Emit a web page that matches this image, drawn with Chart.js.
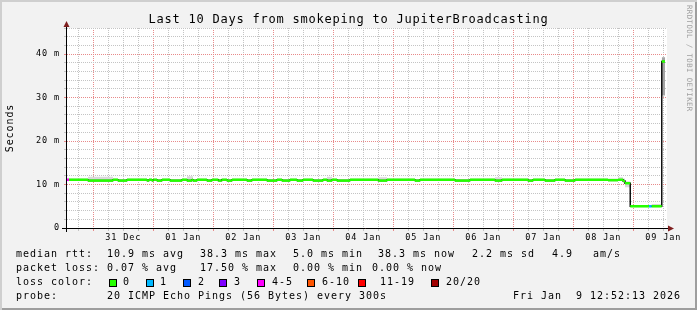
<!DOCTYPE html>
<html>
<head>
<meta charset="utf-8">
<title>Last 10 Days from smokeping to JupiterBroadcasting</title>
<script src="https://cdn.jsdelivr.net/npm/chart.js@4.4.1/dist/chart.umd.min.js"></script>
<style>
  html, body { margin: 0; padding: 0; background: #f2f2f2; }
  #wrap {
    position: relative; width: 697px; height: 310px; overflow: hidden; background: #f2f2f2;
    box-shadow: inset 2px 2px 0 #cfcfcf, inset -2px -2px 0 #9e9e9e;
    font-family: "DejaVu Sans Mono", monospace; color: #000;
  }
  #chart { position: absolute; left: 0; top: 0; }
  .txt { position: absolute; white-space: pre; font-size: 10px; line-height: 14px; letter-spacing: 0.98px; }
  #title { position: absolute; left: 0; top: 12px; width: 697px; text-align: center; white-space: pre;
           font-size: 12px; line-height: 14px; letter-spacing: 0.78px; }
  #mark { position: absolute; left: 685px; top: 5px; writing-mode: vertical-rl; white-space: pre;
          font-size: 7.4px; letter-spacing: 0.4px; color: #a0a0a0; }
  .box { position: absolute; width: 6px; height: 6px; border: 1px solid #000; }
</style>
</head>
<body>
<div id="wrap">
  <canvas id="chart" width="697" height="310"></canvas>
  <div id="title">Last 10 Days from smokeping to JupiterBroadcasting</div>
  <div id="mark">RRDTOOL / TOBI OETIKER</div>
  <div id="legend"></div>
</div>
<script>
// time axis in hours since 31 Dec 00:00
const dayLabels = ['31 Dec', '01 Jan', '02 Jan', '03 Jan', '04 Jan', '05 Jan', '06 Jan', '07 Jan', '08 Jan', '09 Jan'];
const yTickValues = [0, 10, 20, 30, 40];
const yTickLabels = ['0', '10 m', '20 m', '30 m', '40 m'];

// step series (start hour of each step, value in ms)
const stepStartH = [-10.5, -9.7, -2.1, 7.9, 9.9, 13.5, 21.5, 22.3, 23.5, 24.0,
  25.5, 27.5, 30.7, 35.5, 37.5, 39.5, 39.9, 41.5, 45.5, 47.5,
  50.0, 51.4, 53.5, 55.5, 61.5, 63.5, 69.5, 73.5, 75.5, 78.7,
  81.5, 83.9, 87.9, 91.9, 93.5, 95.5, 97.5, 102.7, 114.0, 117.5,
  128.7, 130.7, 144.7, 150.7, 160.7, 163.5, 173.9, 175.9, 180.7, 184.7,
  188.7, 192.7, 205.9, 209.9, 211.9, 212.7, 214.8, 222.3, 223.4, 227.4];
const lastEndH = 228.7;

const medianMs = [11.1, 11.1, 10.9, 11.1, 10.9, 11.1, 10.9, 11.1, 10.9, 11.1,
  10.9, 11.1, 10.9, 11.1, 10.9, 11.1, 10.9, 11.1, 10.9, 11.1,
  10.9, 11.1, 10.9, 11.1, 10.9, 11.1, 10.9, 11.1, 10.9, 11.1,
  10.9, 11.1, 10.9, 11.1, 10.9, 11.1, 10.9, 11.1, 10.9, 11.1,
  10.9, 11.1, 10.9, 11.1, 10.9, 11.1, 10.9, 11.1, 10.9, 11.1,
  10.9, 11.1, 11.0, 11.1, 10.8, 10.3, 5.0, 5.0, 5.0, 38.3];

const smokeLow = [10.8, 10.8, 10.6, 10.8, 10.6, 10.8, 10.6, 10.8, 10.6, 10.8,
  10.6, 10.8, 10.6, 10.8, 10.6, 10.8, 10.6, 10.8, 10.6, 10.8,
  10.6, 10.8, 10.6, 10.8, 10.6, 10.8, 10.6, 10.8, 10.6, 10.8,
  10.6, 10.8, 10.6, 10.8, 10.6, 10.8, 10.6, 10.8, 10.6, 10.8,
  10.6, 10.8, 10.6, 10.8, 10.6, 10.8, 10.6, 10.8, 10.6, 10.8,
  10.6, 10.8, 10.7, 10.8, 10.5, 9.4, 4.8, 4.8, 4.8, 30.5];

const smokeHigh = [11.4, 11.4, 11.8, 11.4, 11.2, 11.4, 11.2, 11.4, 11.2, 11.4,
  11.2, 11.4, 11.2, 11.4, 11.9, 11.9, 11.2, 11.4, 11.2, 11.4,
  11.2, 11.4, 11.2, 11.4, 11.2, 11.4, 11.2, 11.4, 11.2, 11.4,
  11.2, 11.4, 11.2, 11.4, 11.8, 11.4, 11.2, 11.4, 11.7, 11.4,
  11.2, 11.4, 11.2, 11.4, 11.7, 11.4, 11.2, 11.4, 11.2, 11.4,
  11.2, 11.4, 11.3, 11.7, 11.4, 10.7, 5.3, 5.3, 5.5, 39.3];

// index into lossColors for each step
const lossIdx = [4, 0, 0, 0, 0, 0, 0, 0, 0, 0,
  0, 0, 0, 0, 0, 0, 0, 0, 0, 0,
  0, 0, 0, 0, 0, 0, 0, 0, 0, 0,
  0, 0, 0, 0, 0, 0, 0, 0, 0, 0,
  0, 0, 0, 0, 0, 0, 0, 0, 0, 0,
  0, 0, 0, 0, 0, 0, 0, 1, 0, 0];

const lossLabels = ['0', '1', '2', '3', '4-5', '6-10', '11-19', '20/20'];
const lossColors = ['#26ff00', '#00b8ff', '#0059ff', '#7e00ff', '#ff00ff', '#ff5500', '#ff0000', '#a00000'];

const rttStats = ['10.9 ms avg', '38.3 ms max', '5.0 ms min', '38.3 ms now', '2.2 ms sd', '4.9', 'am/s'];
const lossStats = ['0.07 % avg', '17.50 % max', '0.00 % min', '0.00 % now'];
const probeText = '20 ICMP Echo Pings (56 Bytes) every 300s';
const stampText = 'Fri Jan  9 12:52:13 2026';

// legend layout
const rowTop = [247, 261, 275, 289];
const rttX = [107, 200, 293, 378, 472, 552, 593];
const lossX = [107, 200, 293, 372];
const boxX = [109, 146, 183, 219, 257, 307, 358, 431];
const boxLabelX = [123, 160, 198, 234, 272, 322, 380, 446];

const legend = document.getElementById('legend');
function addText(x, y, s) {
  const d = document.createElement('div');
  d.className = 'txt';
  d.style.left = x + 'px';
  d.style.top = y + 'px';
  d.textContent = s;
  legend.appendChild(d);
  return d;
}
addText(16, rowTop[0], 'median rtt:');
rttStats.forEach((s, i) => addText(rttX[i], rowTop[0], s));
addText(16, rowTop[1], 'packet loss:');
lossStats.forEach((s, i) => addText(lossX[i], rowTop[1], s));
addText(16, rowTop[2], 'loss color:');
lossLabels.forEach((s, i) => {
  const b = document.createElement('div');
  b.className = 'box';
  b.style.left = boxX[i] + 'px';
  b.style.top = '279px';
  b.style.background = lossColors[i];
  legend.appendChild(b);
  addText(boxLabelX[i], rowTop[2], s);
});
addText(16, rowTop[3], 'probe:');
addText(107, rowTop[3], probeText);
const stamp = addText(0, rowTop[3], stampText);
stamp.style.left = 'auto';
stamp.style.right = '16px';

// build library data
function stepEnd(i) { return i + 1 < stepStartH.length ? stepStartH[i + 1] : lastEndH; }
function steppedPoints(values) {
  const pts = stepStartH.map((h, i) => ({ x: h, y: values[i] }));
  pts.push({ x: lastEndH, y: values[values.length - 1] });
  return pts;
}
const medianPieces = [];
stepStartH.forEach((h, i) => {
  medianPieces.push({ x: h, y: medianMs[i] }, { x: stepEnd(i), y: medianMs[i] }, { x: stepEnd(i), y: null });
});

const minorGrid = '#c4c4c4';
const majorGrid = '#e88a8a';

const framePlugin = {
  id: 'frame',
  beforeDraw(chart) {
    const { ctx, chartArea: a } = chart;
    ctx.letterSpacing = '0.9px';
    ctx.save();
    ctx.fillStyle = '#ffffff';
    ctx.fillRect(a.left, a.top, a.right - a.left, a.bottom - a.top);
    ctx.restore();
  },
  afterDraw(chart) {
    const { ctx, chartArea: a } = chart;
    ctx.save();
    ctx.strokeStyle = '#000000';
    ctx.lineWidth = 1;
    ctx.beginPath();
    ctx.moveTo(a.left - 5, a.bottom + 0.5);
    ctx.lineTo(a.right + 2, a.bottom + 0.5);
    ctx.moveTo(a.left - 0.5, a.bottom + 4);
    ctx.lineTo(a.left - 0.5, a.top - 2);
    ctx.stroke();
    ctx.fillStyle = '#7f1f1f';
    ctx.beginPath();
    ctx.moveTo(a.right + 7, a.bottom + 0.5);
    ctx.lineTo(a.right + 1, a.bottom - 2.5);
    ctx.lineTo(a.right + 1, a.bottom + 3.5);
    ctx.closePath();
    ctx.fill();
    ctx.beginPath();
    ctx.moveTo(a.left - 0.5, a.top - 7);
    ctx.lineTo(a.left - 3.5, a.top - 1);
    ctx.lineTo(a.left + 2.5, a.top - 1);
    ctx.closePath();
    ctx.fill();
    ctx.restore();
  }
};

Chart.defaults.font.family = '"DejaVu Sans Mono", monospace';
Chart.defaults.color = '#000000';

new Chart(document.getElementById('chart'), {
  type: 'line',
  data: {
    datasets: [
      {
        label: 'smoke low', data: steppedPoints(smokeLow), stepped: true,
        borderColor: 'rgba(0,0,0,0)', borderWidth: 0, fill: false, order: 4
      },
      {
        label: 'smoke high', data: steppedPoints(smokeHigh), stepped: true,
        borderColor: 'rgba(0,0,0,0)', borderWidth: 0, fill: '-1',
        backgroundColor: '#d8d8d8', order: 3,
        // the spike smoke is denser than the flat part
        segment: { backgroundColor: c => (medianMs[Math.min(c.p0DataIndex, medianMs.length - 1)] > 20 ? '#a4a4a4' : '#d8d8d8') }
      },
      {
        label: 'median jumps', data: steppedPoints(medianMs), stepped: true,
        borderColor: '#111111', borderWidth: 1.5, fill: false, order: 2
      },
      {
        label: 'median rtt', data: medianPieces, spanGaps: false,
        borderColor: lossColors[0], borderWidth: 2.5, borderCapStyle: 'butt', fill: false, order: 1,
        segment: { borderColor: c => lossColors[lossIdx[Math.floor(c.p0DataIndex / 3)]] }
      }
    ]
  },
  options: {
    responsive: false,
    animation: false,
    devicePixelRatio: 1,
    layout: { padding: { top: 28, right: 30, left: 0, bottom: 0 } },
    elements: { point: { radius: 0 }, line: { tension: 0 } },
    plugins: { legend: { display: false }, tooltip: { enabled: false }, title: { display: false } },
    scales: {
      x: {
        type: 'linear', min: -10.5, max: 229.5,
        afterBuildTicks: s => {
          const t = [];
          for (let h = -6; h <= 228; h += 6) t.push({ value: h });
          s.ticks = t;
        },
        afterFit: s => { s.height = 82; s.paddingLeft = 0; s.paddingRight = 0; },
        border: { display: false, dash: [1, 1] },
        grid: {
          color: c => (c.tick && c.tick.value % 24 === 0 ? majorGrid : minorGrid),
          tickLength: 3, tickBorderDash: [1, 0]
        },
        ticks: {
          autoSkip: false, maxRotation: 0, minRotation: 0, padding: 2,
          font: { size: 8.5 },
          callback: v => (((v % 24) + 24) % 24 === 12 ? dayLabels[(v - 12) / 24] : '')
        }
      },
      y: {
        min: 0, max: 46,
        afterFit: s => { s.width = 67; s.paddingTop = 0; s.paddingBottom = 0; },
        border: { display: false, dash: [1, 1] },
        grid: {
          color: c => (c.tick && c.tick.value % 10 === 0 ? majorGrid : minorGrid),
          tickLength: 3, tickBorderDash: [1, 0]
        },
        ticks: {
          stepSize: 2, autoSkip: false, padding: 4, font: { size: 8.5 },
          callback: v => { const k = yTickValues.indexOf(v); return k >= 0 ? yTickLabels[k] : ''; }
        },
        title: { display: true, text: 'Seconds', font: { size: 10 }, padding: { top: 4, bottom: 0 } }
      }
    }
  },
  plugins: [framePlugin]
});
</script>
</body>
</html>
